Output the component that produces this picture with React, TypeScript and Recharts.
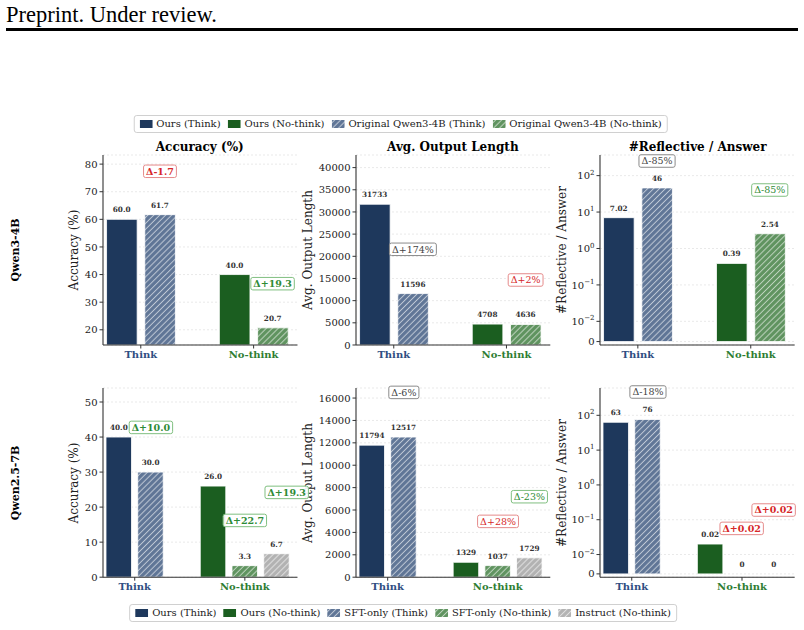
import React, { useLayoutEffect, useRef, useState } from "react";
import { BarChart, Bar, XAxis, YAxis, CartesianGrid, Cell, ReferenceDot } from "recharts";

// ---------- data ----------
const groups = ["Think", "No-think"];

// Qwen3-4B : Ours vs Original Qwen3-4B
const qwen3AccOurs = [60.0, 40.0];
const qwen3AccOrig = [61.7, 20.7];
const qwen3LenOurs = [31733, 4708];
const qwen3LenOrig = [11596, 4636];
const qwen3RefOurs = [7.02, 0.39];
const qwen3RefOrig = [46, 2.54];

// Qwen2.5-7B : Ours vs SFT-only vs Instruct
const qwen25AccOurs = [40.0, 26.0];
const qwen25AccSft = [30.0, 3.3];
const qwen25AccInstruct = [null, 6.7];
const qwen25LenOurs = [11794, 1329];
const qwen25LenSft = [12517, 1037];
const qwen25LenInstruct = [null, 1729];
const qwen25RefOurs = [63, 0.02];
const qwen25RefSft = [76, 0];
const qwen25RefInstruct = [null, 0];

// tick values
const qwen3AccTicks = [20, 30, 40, 50, 60, 70, 80];
const qwen3LenTicks = [0, 5000, 10000, 15000, 20000, 25000, 30000, 35000, 40000];
const qwen25AccTicks = [0, 10, 20, 30, 40, 50];
const qwen25LenTicks = [0, 2000, 4000, 6000, 8000, 10000, 12000, 14000, 16000];
const refTicks = [0, 0.01, 0.1, 1, 10, 100];

// delta annotations (anchored in data coordinates)
const qwen3AccDeltas = [
  { x: 0.17, y: 77.4, text: "Δ-1.7", tone: "red", bold: true },
  { x: 1.168, y: 36.7, text: "Δ+19.3", tone: "green", bold: true },
];
const qwen3LenDeltas = [
  { x: 0.17, y: 21578, text: "Δ+174%", tone: "gray", bold: false },
  { x: 1.17, y: 14656, text: "Δ+2%", tone: "red", bold: false },
];
const qwen3RefDeltas = [
  { x: 0.17, y: 252, text: "Δ-85%", tone: "gray", bold: false },
  { x: 1.168, y: 40.3, text: "Δ-85%", tone: "green", bold: false },
];
const qwen25AccDeltas = [
  { x: 0.147, y: 42.75, text: "Δ+10.0", tone: "green", bold: true },
  { x: 1.38, y: 24.2, text: "Δ+19.3", tone: "green", bold: true },
  { x: 1.0, y: 16.2, text: "Δ+22.7", tone: "green", bold: true },
];
const qwen25LenDeltas = [
  { x: 0.147, y: 16505, text: "Δ-6%", tone: "gray", bold: false },
  { x: 1.288, y: 7190, text: "Δ-23%", tone: "green", bold: false },
  { x: 1.003, y: 4984, text: "Δ+28%", tone: "red", bold: false },
];
const qwen25RefDeltas = [
  { x: 0.147, y: 467, text: "Δ-18%", tone: "gray", bold: false },
  { x: 1.287, y: 0.19, text: "Δ+0.02", tone: "red", bold: true },
  { x: 0.997, y: 0.0564, text: "Δ+0.02", tone: "red", bold: true },
];

// ---------- helpers ----------
const FONT = "'DejaVu Serif', serif";
const LINSCALE = 0.5 / (1 - 1 / 10);
const LINTHRESH = 0.01;
const symlog = (v: number) => (v <= LINTHRESH ? (v / LINTHRESH) * LINSCALE : LINSCALE + Math.log10(v / LINTHRESH));
const ident = (v: number) => v;

const NAVY = "#1e385c";
const GREEN = "#1b5e20";

function fillFor(kind: string, group: number) {
  if (kind === "ours") return group === 0 ? NAVY : GREEN;
  if (kind === "alt") return group === 0 ? "url(#hatchSlate)" : "url(#hatchGreen)";
  return "url(#hatchGray)";
}

type S = { kind: string; values: (number | null)[] };

function buildRows(series: S[], step: number, tf: (v: number) => number, fmt: (v: number) => string) {
  const rows: any[] = [];
  groups.forEach((_, gi) => {
    const present = series.filter((s) => s.values[gi] !== null && s.values[gi] !== undefined);
    present.forEach((s, k) => {
      const raw = s.values[gi] as number;
      rows.push({ x: gi + (k - (present.length - 1) / 2) * step, v: tf(raw), raw, label: fmt(raw), kind: s.kind, group: gi });
    });
  });
  return rows;
}

const TONES: any = {
  red: { text: "#d62728", border: "#e58a8a" },
  green: { text: "#2e8b36", border: "#80bf80" },
  gray: { text: "#444444", border: "#8a8a8a" },
};

function DeltaBox({ cx, cy, text, tone, bold }: any) {
  const ref = useRef<SVGTextElement>(null);
  const [w, setW] = useState(0);
  useLayoutEffect(() => {
    if (ref.current) setW(ref.current.getComputedTextLength());
  }, [text]);
  const t = TONES[tone];
  const h = 12.5;
  const pad = 2.5;
  return (
    <g>
      {w > 0 && (
        <rect x={cx - w / 2 - pad} y={cy - h / 2} width={w + 2 * pad} height={h} rx={2} fill="#ffffff" fillOpacity={0.92} stroke={t.border} strokeWidth={1} />
      )}
      <text ref={ref} x={cx} y={cy} dy="0.36em" textAnchor="middle" fontFamily={FONT} fontSize={9.5} fontWeight={bold ? "bold" : "normal"} fill={t.text}>
        {text}
      </text>
    </g>
  );
}

const XTick = ({ x, y, payload }: any) => {
  const v = Math.round(payload.value);
  return (
    <text x={x} y={y} dy="0.71em" textAnchor="middle" fontFamily={FONT} fontSize={10} fontWeight="bold" fill={v === 0 ? "#2f4e82" : "#2e7d32"}>
      {groups[v]}
    </text>
  );
};

const makeYTick = (log: boolean) => (props: any) => {
  const { x, y, payload } = props;
  if (!log) {
    return (
      <text x={x} y={y} dy="0.36em" textAnchor="end" fontFamily={FONT} fontSize={10} fill="#222">
        {payload.value}
      </text>
    );
  }
  let best = 0;
  refTicks.forEach((r, i) => {
    if (Math.abs(symlog(r) - payload.value) < Math.abs(symlog(refTicks[best]) - payload.value)) best = i;
  });
  const raw = refTicks[best];
  if (raw === 0)
    return (
      <text x={x} y={y} dy="0.36em" textAnchor="end" fontFamily={FONT} fontSize={10} fill="#222">
        0
      </text>
    );
  const e = Math.round(Math.log10(raw));
  return (
    <text x={x} y={y} dy="0.36em" textAnchor="end" fontFamily={FONT} fontSize={10} fill="#222">
      <tspan>10</tspan>
      <tspan dy={-4.5} fontSize={7}>{e < 0 ? "−" + Math.abs(e) : String(e)}</tspan>
    </text>
  );
};

const fmtAcc = (v: number) => v.toFixed(1);
const fmtLen = (v: number) => String(Math.round(v));
const fmtRef = (v: number) => (v === 0 ? "0" : v >= 10 ? String(Math.round(v)) : v.toFixed(2));

const YW = 70;
const MT = 24;
const MR = 14;
const XH = 30;

function Panel(props: any) {
  const { l, r, t, b, xDomain, yDomain, yTicks, rows, deltas, tf, log, barSize } = props;
  const width = YW + (r - l) + MR;
  const height = MT + (b - t) + XH;
  return (
    <div style={{ position: "absolute", left: l - YW, top: t - MT }}>
      <BarChart width={width} height={height} data={rows} margin={{ top: MT, right: MR, bottom: 0, left: 0 }}>
        <CartesianGrid vertical={false} stroke="#e9e9e9" strokeDasharray="2 2" />
        <XAxis
          type="number"
          dataKey="x"
          scale="linear"
          domain={xDomain}
          allowDataOverflow
          ticks={[0, 1]}
          interval={0}
          height={XH}
          tick={<XTick />}
          tickSize={3.5}
          stroke="#333"
          axisLine={{ stroke: "#333", strokeWidth: 1.1 }}
          tickLine={{ stroke: "#333" }}
        />
        <YAxis
          type="number"
          width={YW}
          domain={yDomain}
          allowDataOverflow
          ticks={log ? refTicks.map(symlog) : yTicks}
          interval={0}
          tick={makeYTick(log)}
          tickSize={3.5}
          axisLine={{ stroke: "#333", strokeWidth: 1.1 }}
          tickLine={{ stroke: "#333" }}
        />
        <Bar dataKey="v" barSize={barSize} isAnimationActive={false}>
          {rows.map((row: any, i: number) => (
            <Cell key={i} fill={fillFor(row.kind, row.group)} stroke="#ffffff" strokeWidth={0.8} />
          ))}
        </Bar>
        {rows.map((row: any, i: number) => (
          <ReferenceDot
            key={"v" + i}
            x={row.x}
            y={row.v}
            r={0}
            ifOverflow="visible"
            shape={(p: any) => (
              <text x={p.cx} y={p.cy - 7} textAnchor="middle" fontFamily={FONT} fontSize={7.3} fontWeight="bold" fill="#333">
                {row.label}
              </text>
            )}
          />
        ))}
        {deltas.map((d: any, i: number) => (
          <ReferenceDot
            key={"d" + i}
            x={d.x}
            y={tf(d.y)}
            r={0}
            ifOverflow="visible"
            shape={(p: any) => <DeltaBox cx={p.cx} cy={p.cy} text={d.text} tone={d.tone} bold={d.bold} />}
          />
        ))}
      </BarChart>
    </div>
  );
}

function Swatch({ fill }: { fill: string }) {
  return (
    <svg width={13} height={8} style={{ display: "block", marginRight: 4 }}>
      <rect x={0} y={0} width={13} height={8} fill={fill} />
    </svg>
  );
}

function LegendBox({ items, cx, top }: any) {
  return (
    <div
      style={{
        position: "absolute",
        left: cx,
        top,
        transform: "translateX(-50%)",
        display: "flex",
        alignItems: "center",
        whiteSpace: "nowrap",
        border: "1px solid #d0d0d0",
        borderRadius: 3,
        padding: "2px 5px",
        background: "#fff",
        fontFamily: FONT,
        fontSize: 10,
        color: "#222",
        lineHeight: "12px",
      }}
    >
      {items.map((it: any, i: number) => (
        <div key={i} style={{ display: "flex", alignItems: "center", marginLeft: i === 0 ? 0 : 7 }}>
          <Swatch fill={it.fill} />
          <span>{it.label}</span>
        </div>
      ))}
    </div>
  );
}

function HtmlText({ x, y, text, size, bold, rotate }: any) {
  return (
    <div
      style={{
        position: "absolute",
        left: x,
        top: y,
        transform: `translate(-50%, -50%)${rotate ? " rotate(-90deg)" : ""}`,
        whiteSpace: "nowrap",
        fontFamily: FONT,
        fontSize: size,
        fontWeight: bold ? "bold" : "normal",
        color: bold ? "#000" : "#222",
        lineHeight: 1,
      }}
    >
      {text}
    </div>
  );
}

// ---------- layout ----------
const cols = [
  { l: 102.5, r: 297 },
  { l: 355.7, r: 550 },
  { l: 600.3, r: 795 },
];
const row1 = { t: 155, b: 345 };
const row2 = { t: 388.3, b: 577.5 };
const x1Domain = [-0.335, 1.389];
const x2Domain = [-0.288, 1.478];
const STEP1 = 0.339;
const STEP2 = 0.288;

export default function App() {
  const q3Acc = buildRows([{ kind: "ours", values: qwen3AccOurs }, { kind: "alt", values: qwen3AccOrig }], STEP1, ident, fmtAcc);
  const q3Len = buildRows([{ kind: "ours", values: qwen3LenOurs }, { kind: "alt", values: qwen3LenOrig }], STEP1, ident, fmtLen);
  const q3Ref = buildRows([{ kind: "ours", values: qwen3RefOurs }, { kind: "alt", values: qwen3RefOrig }], STEP1, symlog, fmtRef);
  const q25Acc = buildRows(
    [{ kind: "ours", values: qwen25AccOurs }, { kind: "alt", values: qwen25AccSft }, { kind: "instruct", values: qwen25AccInstruct }],
    STEP2,
    ident,
    fmtAcc
  );
  const q25Len = buildRows(
    [{ kind: "ours", values: qwen25LenOurs }, { kind: "alt", values: qwen25LenSft }, { kind: "instruct", values: qwen25LenInstruct }],
    STEP2,
    ident,
    fmtLen
  );
  const q25Ref = buildRows(
    [{ kind: "ours", values: qwen25RefOurs }, { kind: "alt", values: qwen25RefSft }, { kind: "instruct", values: qwen25RefInstruct }],
    STEP2,
    symlog,
    fmtRef
  );

  const legend1 = [
    { label: "Ours (Think)", fill: NAVY },
    { label: "Ours (No-think)", fill: GREEN },
    { label: "Original Qwen3-4B (Think)", fill: "url(#hatchSlate)" },
    { label: "Original Qwen3-4B (No-think)", fill: "url(#hatchGreen)" },
  ];
  const legend2 = [
    { label: "Ours (Think)", fill: NAVY },
    { label: "Ours (No-think)", fill: GREEN },
    { label: "SFT-only (Think)", fill: "url(#hatchSlate)" },
    { label: "SFT-only (No-think)", fill: "url(#hatchGreen)" },
    { label: "Instruct (No-think)", fill: "url(#hatchGray)" },
  ];

  return (
    <div style={{ position: "absolute", left: 0, top: 0, width: 804, height: 630, background: "#fff", overflow: "hidden" }}>
      <svg width={0} height={0} style={{ position: "absolute" }}>
        <defs>
          <pattern id="hatchSlate" patternUnits="userSpaceOnUse" width={4.2} height={4.2} patternTransform="rotate(45)">
            <rect width={4.2} height={4.2} fill="#5f7596" />
            <line x1={2.1} y1={0} x2={2.1} y2={4.2} stroke="#ffffff" strokeOpacity={0.6} strokeWidth={1} />
          </pattern>
          <pattern id="hatchGreen" patternUnits="userSpaceOnUse" width={4.2} height={4.2} patternTransform="rotate(45)">
            <rect width={4.2} height={4.2} fill="#5f935f" />
            <line x1={2.1} y1={0} x2={2.1} y2={4.2} stroke="#ffffff" strokeOpacity={0.6} strokeWidth={1} />
          </pattern>
          <pattern id="hatchGray" patternUnits="userSpaceOnUse" width={4.2} height={4.2} patternTransform="rotate(45)">
            <rect width={4.2} height={4.2} fill="#b2b2b2" />
            <line x1={2.1} y1={0} x2={2.1} y2={4.2} stroke="#ffffff" strokeOpacity={0.6} strokeWidth={1} />
          </pattern>
        </defs>
      </svg>

      <svg width={804} height={40} style={{ position: "absolute", left: 0, top: 0 }}>
        <text x={6} y={22} fontFamily="'Liberation Serif', serif" fontSize={22.5} fill="#000">
          Preprint. Under review.
        </text>
        <rect x={6} y={28} width={792} height={3} fill="#000" />
      </svg>

      <LegendBox items={legend1} cx={400.5} top={115} />
      <LegendBox items={legend2} cx={403} top={604} />

      <HtmlText x={15} y={250} text="Qwen3-4B" size={11} bold rotate />
      <HtmlText x={15} y={483} text="Qwen2.5-7B" size={11} bold rotate />

      <HtmlText x={(cols[0].l + cols[0].r) / 2} y={146.7} text="Accuracy (%)" size={12} bold />
      <HtmlText x={(cols[1].l + cols[1].r) / 2} y={146.7} text="Avg. Output Length" size={12} bold />
      <HtmlText x={(cols[2].l + cols[2].r) / 2} y={146.7} text="#Reflective / Answer" size={12} bold />

      <HtmlText x={73.7} y={250} text="Accuracy (%)" size={12} rotate />
      <HtmlText x={307.8} y={250} text="Avg. Output Length" size={12} rotate />
      <HtmlText x={562} y={250} text="#Reflective / Answer" size={12} rotate />
      <HtmlText x={73.7} y={483} text="Accuracy (%)" size={12} rotate />
      <HtmlText x={307.8} y={483} text="Avg. Output Length" size={12} rotate />
      <HtmlText x={562} y={483} text="#Reflective / Answer" size={12} rotate />

      <Panel {...cols[0]} {...row1} xDomain={x1Domain} yDomain={[14.49, 83.3]} yTicks={qwen3AccTicks} rows={q3Acc} deltas={qwen3AccDeltas} tf={ident} log={false} barSize={30.6} />
      <Panel {...cols[1]} {...row1} xDomain={x1Domain} yDomain={[0, 42840]} yTicks={qwen3LenTicks} rows={q3Len} deltas={qwen3LenDeltas} tf={ident} log={false} barSize={30.6} />
      <Panel {...cols[2]} {...row1} xDomain={x1Domain} yDomain={[-0.094, 5.122]} yTicks={[]} rows={q3Ref} deltas={qwen3RefDeltas} tf={symlog} log={true} barSize={30.6} />

      <Panel {...cols[0]} {...row2} xDomain={x2Domain} yDomain={[0, 54]} yTicks={qwen25AccTicks} rows={q25Acc} deltas={qwen25AccDeltas} tf={ident} log={false} barSize={25.5} />
      <Panel {...cols[1]} {...row2} xDomain={x2Domain} yDomain={[0, 16898]} yTicks={qwen25LenTicks} rows={q25Len} deltas={qwen25LenDeltas} tf={ident} log={false} barSize={25.5} />
      <Panel {...cols[2]} {...row2} xDomain={x2Domain} yDomain={[-0.095, 5.34]} yTicks={[]} rows={q25Ref} deltas={qwen25RefDeltas} tf={symlog} log={true} barSize={25.5} />
    </div>
  );
}
